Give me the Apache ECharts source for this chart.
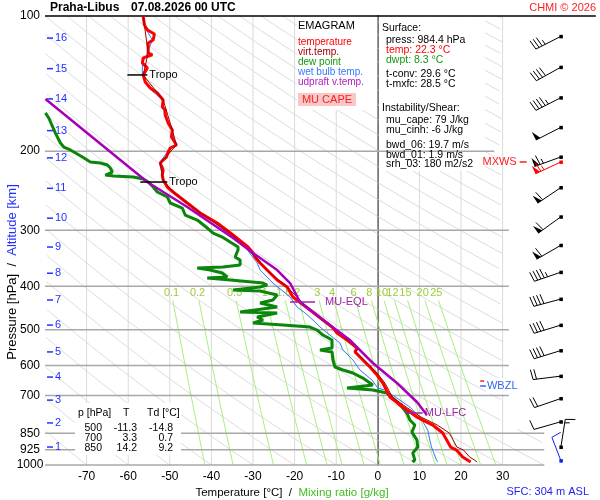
<!DOCTYPE html>
<html>
<head>
<meta charset="utf-8">
<script src="https://cdn.jsdelivr.net/npm/echarts@6/dist/echarts.min.js"></script>
<style>
  html, body { margin: 0; padding: 0; background: #fff; }
  #chart { width: 600px; height: 500px; }
</style>
</head>
<body>
<div id="chart"></div>
<script>
(function () {
  const FONT = '"Liberation Sans", Arial, sans-serif';

  // ---- sounding profiles, [T °C, p hPa] ----
  const tempProfile = [
    [-56.4, 100], [-56.1, 104.7], [-55.4, 107.4], [-53.7, 109.7], [-54.0, 113.1], [-55.2, 114.9],
    [-55.2, 120.9], [-54.2, 122.1], [-56.4, 124.0], [-56.6, 127.2], [-55.4, 130.5], [-56.1, 133.9],
    [-56.4, 135.3], [-55.9, 140.3], [-54.7, 144.7], [-53.0, 148.4], [-51.6, 153.8], [-51.8, 159.5],
    [-51.1, 162.0], [-51.1, 166.2], [-50.4, 173.1], [-49.4, 179.5], [-49.6, 186.0], [-48.4, 193.8],
    [-49.9, 196.8], [-50.4, 200.9], [-50.8, 206.1], [-51.6, 209.3], [-52.3, 212.5], [-51.6, 220.3],
    [-51.8, 226.1], [-51.6, 231.9], [-50.6, 240.4], [-49.2, 246.6], [-45.8, 260.9], [-42.7, 274.6],
    [-38.6, 289.0], [-34.8, 307.5], [-31.2, 326.9], [-30.0, 337.2], [-29.5, 344.1], [-28.3, 354.9],
    [-25.9, 373.6], [-24.2, 387.3], [-21.8, 401.4], [-20.4, 422.5], [-16.3, 451.6], [-13.2, 475.4],
    [-11.0, 492.8], [-9.8, 508.2], [-7.4, 526.8], [-5.0, 548.8], [-5.5, 560.2], [-1.9, 605.0],
    [-0.2, 630.4], [1.2, 656.8], [2.9, 705.7], [6.0, 742.8], [9.4, 782.0], [13.2, 814.7],
    [15.6, 848.8], [17.5, 912.1], [18.9, 926.2], [20.4, 960.2], [22.3, 984.4]
  ];
  const virtTempProfile = [
    [-56.4, 100], [-55.2, 120.9], [-56.4, 135.3], [-51.6, 153.8], [-49.4, 179.5], [-48.4, 193.8],
    [-52.3, 212.5], [-51.6, 231.9], [-49.2, 246.6], [-42.7, 274.6], [-34.8, 307.5], [-29.5, 344.1],
    [-25.9, 373.6], [-21.8, 401.4], [-16.3, 451.6], [-11.0, 492.8], [-7.3, 526.8], [-4.8, 548.8],
    [-5.2, 560.2], [-1.6, 605.0], [0.2, 630.4], [1.7, 656.8], [3.5, 705.7], [6.8, 742.8],
    [10.4, 782.0], [14.3, 814.7], [17.2, 848.8], [19.0, 912.1], [20.6, 926.2], [22.1, 960.2],
    [23.9, 984.4]
  ];
  const dewProfile = [
    [-79.9, 164.4], [-79.1, 168.7], [-77.5, 182.3], [-76.3, 191.8], [-75.5, 195.8], [-73.9, 198.8],
    [-71.0, 206.1], [-69.1, 211.4], [-66.7, 212.5], [-65.0, 214.7], [-64.3, 218.1], [-63.8, 222.6],
    [-65.5, 226.1], [-63.5, 227.2], [-58.8, 228.4], [-56.4, 230.7], [-55.2, 234.3], [-54.0, 240.4],
    [-53.0, 246.6], [-50.6, 253.0], [-49.9, 260.9], [-47.0, 267.7], [-46.3, 277.5], [-43.4, 284.7],
    [-41.0, 296.6], [-39.6, 304.4], [-37.4, 310.7], [-35.5, 318.8], [-33.6, 326.9], [-33.6, 331.9],
    [-34.3, 344.1], [-33.1, 349.5], [-33.1, 358.6], [-37.2, 362.3], [-43.4, 364.1], [-40.3, 367.9],
    [-37.4, 373.6], [-36.2, 381.3], [-41.0, 383.3], [-35.5, 387.3], [-27.6, 393.3], [-26.6, 397.3],
    [-28.3, 401.4], [-34.8, 407.6], [-28.3, 409.7], [-24.2, 418.2], [-25.2, 429.2], [-28.3, 435.8],
    [-24.2, 444.8], [-33.1, 456.3], [-24.2, 458.6], [-29.0, 468.2], [-27.6, 475.4], [-30.0, 482.9],
    [-22.8, 487.9], [-16.3, 492.8], [-14.6, 500.5], [-13.2, 513.5], [-11.0, 526.8], [-11.0, 548.8],
    [-13.9, 554.5], [-11.0, 560.2], [-10.8, 583.5], [-10.3, 605.0], [-8.4, 614.4], [-6.0, 623.9],
    [-3.6, 640.2], [-1.2, 663.6], [-7.4, 673.9], [-1.2, 680.7], [2.2, 691.4], [4.1, 716.6],
    [5.8, 742.8], [7.0, 765.9], [7.7, 794.1], [8.9, 814.7], [8.2, 844.7], [9.4, 879.8],
    [9.6, 912.1], [8.4, 940.4], [8.9, 975.0], [8.3, 984.4]
  ];
  const wetBulbProfile = [
    [-56.6, 100], [-55.6, 107.4], [-54.2, 113.1], [-55.4, 120.9], [-56.6, 127.2], [-56.6, 135.3],
    [-55.0, 144.7], [-51.8, 153.8], [-51.3, 166.2], [-49.6, 179.5], [-48.6, 193.8], [-50.6, 200.9],
    [-52.5, 212.5], [-51.8, 226.1], [-50.8, 240.4], [-46.2, 260.9], [-39.2, 289.0], [-35.4, 307.5],
    [-31.9, 326.9], [-29.0, 354.9], [-28.3, 367.9], [-25.2, 393.3], [-21.1, 422.5], [-19.4, 444.8],
    [-17.5, 458.6], [-15.6, 475.4], [-13.9, 492.8], [-11.5, 513.5], [-9.1, 535.0], [-8.4, 554.5],
    [-6.7, 574.6], [-6.0, 583.5], [-4.3, 614.4], [-1.4, 646.8], [0.0, 673.9], [1.7, 680.7],
    [4.6, 709.4], [7.7, 742.8], [10.1, 782.0], [11.3, 814.7], [12.0, 835.9], [12.5, 879.8],
    [12.9, 912.1], [14.1, 975.0], [14.4, 984.4]
  ];
  const parcelProfile = [
    [-79.9, 153.0], [-61.9, 209.3], [-55.4, 234.3], [-45.8, 266.3], [-34.8, 312.3], [-30.0, 337.2],
    [-24.2, 367.9], [-21.1, 393.3], [-18.7, 433.5], [-12.2, 482.9], [-6.7, 526.8], [-1.2, 592.7],
    [4.6, 656.8], [9.4, 724.0], [11.8, 774.0]
  ];

  // ---- diagram grid ----
  const pressureLevels = [100, 200, 300, 400, 500, 600, 700, 850, 925, 1000];
  const isotherms = [-70, -60, -50, -40, -30, -20, -10, 0, 10, 20, 30];
  const adiabatThetas = [-80, -70, -60, -50, -40, -30, -20, -10, 0, 10, 20, 30, 40, 50, 60, 70, 80, 90,
    100, 110, 120, 130, 140, 150, 160, 170, 180, 190, 200, 210, 220, 230, 240, 250, 260, 270, 280,
    290, 300, 310];
  const mixingRatios = [0.1, 0.2, 0.5, 1, 1.5, 2, 3, 4, 6, 8, 10, 12, 15, 20, 25];
  const altitudeKm = [1, 2, 3, 4, 5, 6, 7, 8, 9, 10, 11, 12, 13, 14, 15, 16];
  const altitudeP = [912, 806, 717, 637, 560, 488, 429, 374, 327, 282, 242, 207, 180, 153, 131, 112];

  // ---- winds (knots) ----
  const windP = [912, 801, 711, 634, 556, 488, 427, 372, 324, 280, 241, 206, 177, 152, 130, 111];
  const windDir = [9, 254, 251, 263, 253, 253, 255, 251, 240, 234, 236, 250, 243, 243, 241, 243];
  const windSpd = [15, 10, 20, 20, 40, 40, 40, 45, 60, 60, 60, 65, 50, 45, 40, 35];
  const sfcWindP = [978];
  const sfcWindDir = [339];
  const sfcWindSpd = [10];
  const maxWindP = [211.4];
  const maxWindDir = [245];
  const maxWindSpd = [65];

  // ---- level markers ----
  const markerNames = ['Tropo', 'Tropo', 'MU-EQL', 'MU-LFC', 'MXWS'];
  const markerP = [135.3, 234.3, 433.5, 766, 211.4];
  const markerT1 = [-60.2, -57.1, -21.1, 6.5, 34.1];
  const markerT2 = [-55.4, -50.6, -15.1, 10.8, 35.8];
  const wbzlP = [650, 667];

  // ---- text tables ----
  const tableP = [500, 700, 850];
  const tableT = [-11.3, 3.3, 14.2];
  const tableTd = [-14.8, 0.7, 9.2];

  const BARB_T = 44;

  function adiabatT(thetaC, p) {
    return (thetaC + 273.15) * Math.pow(p / 1000, 0.2857) - 273.15;
  }
  function dewFromMix(w, p) {
    const e = w * p / (622 + w);
    const l = Math.log(e / 6.112);
    return 243.5 * l / (17.67 - l);
  }

  function renderIsotherm(params, api) {
    const t = isotherms[params.dataIndex];
    const a = api.coord([t, 100]);
    const b = api.coord([t, 1000]);
    return {
      type: 'line',
      shape: { x1: a[0], y1: a[1], x2: b[0], y2: b[1] },
      style: { stroke: t === 0 ? '#a0a0a0' : '#dadada', lineWidth: t === 0 ? 1.5 : 1 },
    };
  }

  function renderIsobar(params, api) {
    const p = pressureLevels[params.dataIndex];
    let tEnd = 31.5;
    if (p === 100) tEnd = 52.4;
    else if (p === 200) tEnd = 28;
    else if (p >= 850) tEnd = 40;
    const a = api.coord([-80, p]);
    const b = api.coord([tEnd, p]);
    return {
      type: 'line',
      shape: { x1: a[0], y1: a[1], x2: b[0], y2: b[1] },
      style: { stroke: p === 100 ? '#000' : '#a8a8a8', lineWidth: 1.5 },
    };
  }

  function renderAdiabat(params, api) {
    const th = adiabatThetas[params.dataIndex];
    const segs = [];
    let cur = [];
    const steps = 240;
    for (let k = 0; k <= steps; k++) {
      const p = 100 * Math.pow(10, k / steps);
      const t = adiabatT(th, p);
      const tMax = p < 830 ? 30 : 40;
      if (t >= -80 && t <= tMax) {
        cur.push(api.coord([t, p]));
      } else if (cur.length) {
        segs.push(cur);
        cur = [];
      }
    }
    if (cur.length) segs.push(cur);
    return {
      type: 'group',
      children: segs.filter((s) => s.length > 1).map((s) => ({
        type: 'polyline',
        shape: { points: s },
        style: { stroke: '#dcdcdc', lineWidth: 1, fill: null },
      })),
    };
  }

  function renderMixing(params, api) {
    const w = mixingRatios[params.dataIndex];
    const pts = [];
    for (let k = 0; k <= 30; k++) {
      const p = 430 + (1000 - 430) * k / 30;
      pts.push(api.coord([dewFromMix(w, p), p]));
    }
    const lp = api.coord([dewFromMix(w, 415), 414]);
    return {
      type: 'group',
      children: [
        { type: 'polyline', shape: { points: pts }, style: { stroke: '#a6f07c', lineWidth: 1, fill: null } },
        {
          type: 'text', x: lp[0], y: lp[1],
          style: { text: String(w), fill: '#9ccc3c', fontSize: 11, fontFamily: FONT, align: 'center', verticalAlign: 'middle' },
        },
      ],
    };
  }

  function renderPressureLabel(params, api) {
    const p = pressureLevels[params.dataIndex];
    const c = api.coord([-80, p]);
    return {
      type: 'text', x: c[0] - 15, y: c[1],
      style: { text: String(p), fill: '#000', fontSize: 12, fontFamily: FONT, align: 'center', verticalAlign: 'middle' },
    };
  }

  function renderAltitude(params, api) {
    const i = params.dataIndex;
    const c = api.coord([-80, altitudeP[i]]);
    return {
      type: 'group',
      children: [
        { type: 'line', shape: { x1: c[0] + 2, y1: c[1], x2: c[0] + 8, y2: c[1] }, style: { stroke: '#2233ff', lineWidth: 1.5 } },
        {
          type: 'text', x: c[0] + 10, y: c[1],
          style: { text: String(altitudeKm[i]), fill: '#2233ff', fontSize: 11, fontFamily: FONT, align: 'left', verticalAlign: 'middle' },
        },
      ],
    };
  }

  function barbRenderer(pList, dirList, spdList, color, len) {
    return function (params, api) {
      const i = params.dataIndex;
      const c = api.coord([BARB_T, pList[i]]);
      const rad = dirList[i] * Math.PI / 180;
      const ux = Math.sin(rad);
      const uy = -Math.cos(rad);
      const px = -uy;
      const py = ux;
      const ex = c[0] + ux * len;
      const ey = c[1] + uy * len;
      const kids = [
        { type: 'line', shape: { x1: c[0], y1: c[1], x2: ex, y2: ey }, style: { stroke: color, lineWidth: 1 } },
        { type: 'rect', shape: { x: c[0] - 1.5, y: c[1] - 1.5, width: 3.5, height: 3.5 }, style: { fill: color } },
      ];
      let s = spdList[i];
      const nPen = Math.floor(s / 50);
      s -= nPen * 50;
      const nFull = Math.floor(s / 10);
      s -= nFull * 10;
      const half = s >= 5;
      let pos = 0;
      for (let k = 0; k < nPen; k++) {
        const ax = ex - ux * pos, ay = ey - uy * pos;
        const bx = ex - ux * (pos + 5), by = ey - uy * (pos + 5);
        kids.push({
          type: 'polygon',
          shape: { points: [[ax, ay], [ax + px * 9, ay + py * 9], [bx, by]] },
          style: { fill: color },
        });
        pos += 6;
      }
      for (let k = 0; k < nFull; k++) {
        const ax = ex - ux * pos, ay = ey - uy * pos;
        kids.push({
          type: 'line',
          shape: { x1: ax, y1: ay, x2: ax + px * 10 + ux * 1.5, y2: ay + py * 10 + uy * 1.5 },
          style: { stroke: color, lineWidth: 1 },
        });
        pos += 3.5;
      }
      if (half) {
        if (pos === 0) pos = 3.5;
        const ax = ex - ux * pos, ay = ey - uy * pos;
        kids.push({
          type: 'line',
          shape: { x1: ax, y1: ay, x2: ax + px * 5 + ux * 0.8, y2: ay + py * 5 + uy * 0.8 },
          style: { stroke: color, lineWidth: 1 },
        });
      }
      return { type: 'group', children: kids };
    };
  }

  function renderMarker(params, api) {
    const i = params.dataIndex;
    const name = markerNames[i];
    const a = api.coord([markerT1[i], markerP[i]]);
    const b = api.coord([markerT2[i], markerP[i]]);
    let color = '#000';
    let gap = 2;
    let align = 'left';
    let tx = b[0];
    if (name.indexOf('MU') === 0) color = '#a020a8';
    if (name === 'MU-EQL') gap = 10;
    if (name === 'MXWS') { color = '#ff2020'; align = 'right'; tx = a[0]; gap = -3; }
    return {
      type: 'group',
      children: [
        { type: 'line', shape: { x1: a[0], y1: a[1], x2: b[0], y2: b[1] }, style: { stroke: color, lineWidth: 1.5 } },
        {
          type: 'text', x: tx + gap, y: a[1],
          style: { text: name, fill: color, fontSize: 11, fontFamily: FONT, align: align, verticalAlign: 'middle' },
        },
      ],
    };
  }

  function renderWbzl(params, api) {
    const r1 = api.coord([24.6, wbzlP[0]]);
    const r2 = api.coord([32, wbzlP[0]]);
    const b1 = api.coord([24.6, wbzlP[1]]);
    const b2 = api.coord([26, wbzlP[1]]);
    return {
      type: 'group',
      children: [
        { type: 'line', shape: { x1: r1[0], y1: r1[1], x2: r2[0], y2: r2[1] }, style: { stroke: '#ff2020', lineWidth: 1.5, lineDash: [4, 2] } },
        { type: 'rect', shape: { x: b2[0], y: b2[1] - 8, width: 37, height: 16 }, style: { fill: '#fff' } },
        { type: 'line', shape: { x1: b1[0], y1: b1[1], x2: b2[0], y2: b2[1] }, style: { stroke: '#3366ee', lineWidth: 1.5 } },
        {
          type: 'text', x: b2[0] + 1, y: b2[1],
          style: { text: 'WBZL', fill: '#3366ee', fontSize: 11, fontFamily: FONT, align: 'left', verticalAlign: 'middle' },
        },
      ],
    };
  }

  function customSeries(data, render, z) {
    return { type: 'custom', data: data, renderItem: render, z: z, silent: true, animation: false };
  }
  function lineSeries(data, color, width, z) {
    return {
      type: 'line', data: data, showSymbol: false, symbol: 'none', clip: true, z: z,
      lineStyle: { color: color, width: width }, silent: true, animation: false,
    };
  }

  const series = [
    customSeries(adiabatThetas.map((t) => [t, 1000]), renderAdiabat, 1),
    customSeries(isotherms.map((t) => [t, 1000]), renderIsotherm, 1),
    customSeries(mixingRatios.map((w) => [0, 1000]), renderMixing, 2),
    customSeries(pressureLevels.map((p) => [-80, p]), renderIsobar, 7),
    customSeries(pressureLevels.map((p) => [-80, p]), renderPressureLabel, 7),
    customSeries(altitudeP.map((p) => [-80, p]), renderAltitude, 9),
    lineSeries(dewProfile, '#0a860a', 3, 10),
    lineSeries(wetBulbProfile, '#3377ff', 1, 11),
    lineSeries(tempProfile, '#ff0000', 3, 12),
    lineSeries(virtTempProfile, '#a00000', 1, 13),
    lineSeries(parcelProfile, '#a800b8', 2.5, 14),
    customSeries(markerP.map((p) => [0, p]), renderMarker, 15),
    customSeries([[0, wbzlP[0]]], renderWbzl, 15),
    customSeries(windP.map((p) => [BARB_T, p]), barbRenderer(windP, windDir, windSpd, '#000', 28), 15),
    customSeries(maxWindP.map((p) => [BARB_T, p]), barbRenderer(maxWindP, maxWindDir, maxWindSpd, '#ff0000', 28), 16),
    customSeries(sfcWindP.map((p) => [BARB_T, p]), barbRenderer(sfcWindP, sfcWindDir, sfcWindSpd, '#1020ee', 25), 16),
  ];

  function txt(text, x, y, color, size, extra) {
    return {
      type: 'text', x: x, y: y, z: 20,
      style: Object.assign({
        text: text, fill: color, fontSize: size, fontFamily: FONT, align: 'left', verticalAlign: 'middle',
      }, extra || {}),
    };
  }

  const graphic = [
    { type: 'rect', z: 5, shape: { x: 297, y: 17, width: 80, height: 93 }, style: { fill: '#fff' } },
    { type: 'rect', z: 5, shape: { x: 379, y: 17, width: 106, height: 154 }, style: { fill: '#fff' } },
    { type: 'rect', z: 8, shape: { x: 75, y: 403, width: 106, height: 52 }, style: { fill: '#fff' } },
    txt('Praha-Libus', 50, 8, '#000', 12, { fontWeight: 'bold' }),
    txt('07.08.2026 00 UTC', 131, 8, '#000', 12, { fontWeight: 'bold' }),
    txt('CHMI \u00a9 2026', 596, 8, '#ff2020', 11, { align: 'right' }),
    txt('EMAGRAM', 298, 26, '#000', 11),
    txt('temperature', 298, 42, '#ff0000', 10),
    txt('virt.temp.', 298, 52, '#a00000', 10),
    txt('dew point', 298, 62, '#119911', 10),
    txt('wet bulb temp.', 298, 72, '#3377ff', 10),
    txt('udpraft v.temp.', 298, 82, '#b020c0', 10),
    { type: 'rect', z: 19, shape: { x: 298, y: 93, width: 58, height: 13 }, style: { fill: '#f6c8c8' } },
    txt('MU CAPE', 327, 100, '#ff2020', 11, { align: 'center' }),
    txt('Surface:', 382, 28, '#000', 10.5),
    txt('press: 984.4 hPa', 386, 40, '#000', 10.5),
    txt('temp: 22.3 \u00b0C', 386, 50, '#ff0000', 10.5),
    txt('dwpt: 8.3 \u00b0C', 386, 60, '#119911', 10.5),
    txt('t-conv: 29.6 \u00b0C', 386, 74, '#000', 10.5),
    txt('t-mxfc: 28.5 \u00b0C', 386, 84, '#000', 10.5),
    txt('Instability/Shear:', 382, 108, '#000', 10.5),
    txt('mu_cape: 79 J/kg', 386, 120, '#000', 10.5),
    txt('mu_cinh: -6 J/kg', 386, 130, '#000', 10.5),
    txt('bwd_06: 19.7 m/s', 386, 145, '#000', 10.5),
    txt('bwd_01: 1.9 m/s', 386, 155, '#000', 10.5),
    txt('srh_03: 180 m2/s2', 386, 164, '#000', 10.5),
    txt('p [hPa]', 78, 413, '#000', 10.5),
    txt('T', 123, 413, '#000', 10.5),
    txt('Td [\u00b0C]', 147, 413, '#000', 10.5),
    txt('SFC: 304 m ASL', 589, 492, '#2222ee', 11, { align: 'right' }),
    {
      type: 'text', x: 292, y: 493, z: 20,
      style: {
        text: '{a|Temperature [\u00b0C]  /  }{b|Mixing ratio [g/kg]}',
        align: 'center', verticalAlign: 'middle', fontFamily: FONT, fontSize: 11.5,
        rich: { a: { fill: '#000', fontSize: 11.5, fontFamily: FONT }, b: { fill: '#44bb22', fontSize: 11.5, fontFamily: FONT } },
      },
    },
    {
      type: 'text', x: 12, y: 272, z: 20, rotation: Math.PI / 2,
      style: {
        text: '{a|Pressure [hPa]  /  }{b|Altitude [km]}',
        align: 'center', verticalAlign: 'middle', fontFamily: FONT, fontSize: 13,
        rich: { a: { fill: '#000', fontSize: 13, fontFamily: FONT }, b: { fill: '#2233ff', fontSize: 13, fontFamily: FONT } },
      },
    },
  ];
  tableP.forEach((p, i) => {
    const y = 428 + i * 10;
    graphic.push(txt(String(p), 102, y, '#000', 10.5, { align: 'right' }));
    graphic.push(txt(tableT[i].toFixed(1), 137, y, '#000', 10.5, { align: 'right' }));
    graphic.push(txt(tableTd[i].toFixed(1), 173, y, '#000', 10.5, { align: 'right' }));
  });

  const chart = echarts.init(document.getElementById('chart'));
  chart.setOption({
    animation: false,
    backgroundColor: '#fff',
    grid: { left: 45, right: 10, top: 16, bottom: 35 },
    xAxis: {
      type: 'value', min: -80, max: 51, interval: 10,
      axisLine: { show: false }, axisTick: { show: false }, splitLine: { show: false },
      axisLabel: {
        color: '#000', fontSize: 12, fontFamily: FONT, margin: 6,
        formatter: (v) => (v >= -70 && v <= 30 ? String(v) : ''),
      },
    },
    yAxis: {
      type: 'log', logBase: 10, min: 100, max: 1000, inverse: true,
      axisLine: { show: true, lineStyle: { color: '#000', width: 1.5 } },
      axisTick: { show: false }, axisLabel: { show: false }, splitLine: { show: false },
    },
    series: series,
    graphic: graphic,
  });

  window.addEventListener('resize', () => {
    chart.resize();
  });
})();
</script>
</body>
</html>
